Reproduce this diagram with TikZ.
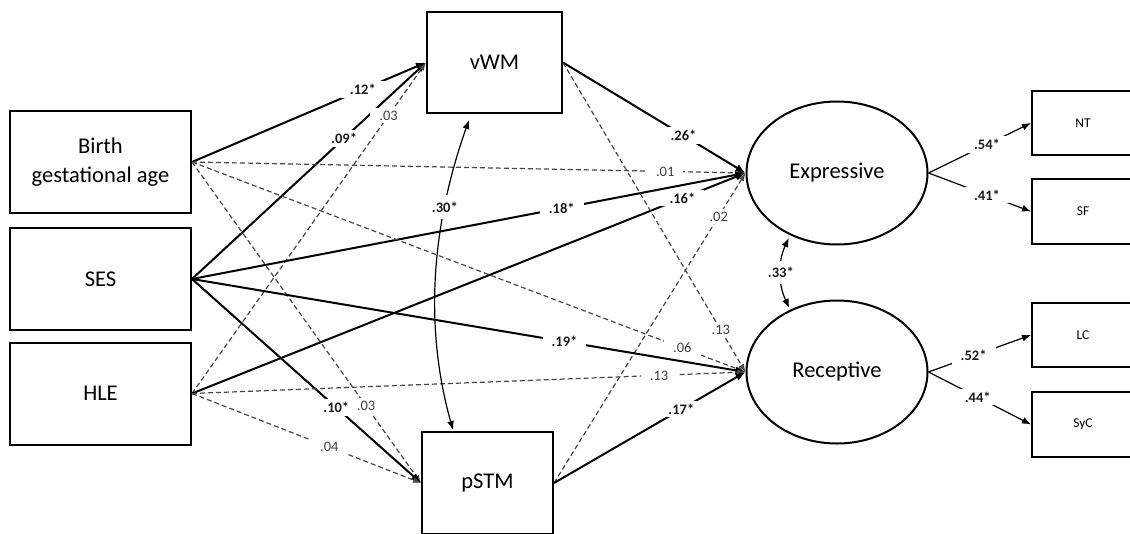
\documentclass[tikz,border=0pt]{standalone}
\usepackage{fontspec}
\setmainfont{Carlito}
\usetikzlibrary{arrows.meta,shapes.geometric}
\begin{document}
\begin{tikzpicture}[x=1pt,y=-1pt,
 box/.style={draw,line width=2pt,inner sep=0pt,align=center,font=\fontsize{22.5}{28.5}\selectfont},
 ind/.style={draw,line width=2pt,inner sep=0pt,minimum width=102pt,font=\fontsize{13.5}{16}\selectfont},
 lat/.style={draw,ellipse,line width=2pt,inner sep=0pt,minimum width=181pt,minimum height=143pt,font=\fontsize{22.5}{28.5}\selectfont},
 sol/.style={line width=2pt,-{Latex[length=10pt,width=8pt]}},
 dsh/.style={line width=1.2pt,black!72,dash pattern=on 5pt off 3pt,-{Latex[length=8pt,width=6pt]}},
 ld/.style={line width=1.2pt,-{Latex[length=9pt,width=7pt]}},
 lab/.style={fill=white,inner xsep=9pt,inner ysep=3pt,text=black!75,font=\fontsize{14.5}{16}\selectfont},
 slab/.style={lab,text=black!90,font=\bfseries\fontsize{14.5}{16}\selectfont},
]
\useasboundingbox (0,0) rectangle (1130,533);
\clip (0,0) rectangle (1130,533);
% nodes
\node[box,minimum width=181pt,minimum height=102pt] (B) at (100.5,162) {Birth\\gestational age};
\node[box,minimum width=181pt,minimum height=102pt] (S) at (100.5,279) {SES};
\node[box,minimum width=181pt,minimum height=102pt] (H) at (100.5,393.5) {HLE};
\node[box,minimum width=135pt,minimum height=101pt] (V) at (494.5,62.5) {vWM};
\node[box,minimum width=131pt,minimum height=102pt] (P) at (487.5,483) {pSTM};
\node[lat] (E) at (837,173) {Expressive};
\node[lat] (R) at (837,372) {Receptive};
\node[ind,minimum height=64pt] (NT) at (1083,123) {NT};
\node[ind,minimum height=65pt] (SF) at (1083,211.5) {SF};
\node[ind,minimum height=64pt] (LC) at (1083,335) {LC};
\node[ind,minimum height=65pt] (SyC) at (1083,424.5) {SyC};
\coordinate (Vtop) at (469,120);
\coordinate (Pbot) at (453,430);
% paths to vWM
\draw[sol] (B.east) -- node[slab,pos=.73]{.12*} (V.west);
\draw[sol] (S.east) -- node[slab,pos=.65]{.09*} (V.west);
\draw[dsh] (H.east) -- node[lab,pos=.84]{.03} (V.west);
% paths to pSTM
\draw[dsh] (B.east) -- node[lab,pos=.76]{.03} (P.west);
\draw[sol] (S.east) -- node[slab,pos=.63]{.10*} (P.west);
\draw[dsh] (H.east) -- node[lab,pos=.6]{.04} (P.west);
% paths to Expressive
\draw[dsh] (B.east) -- node[lab,pos=.855]{.01} (E.west);
\draw[sol] (S.east) -- node[slab,pos=.668]{.18*} (E.west);
\draw[sol] (H.east) -- node[slab,pos=.886]{.16*} (E.west);
\draw[sol] (V.east) -- node[slab,pos=.66]{.26*} (E.west);
\draw[dsh] (P.east) -- node[lab,pos=.86]{.02} (E.west);
% paths to Receptive
\draw[dsh] (B.east) -- node[lab,pos=.886]{.06} (R.west);
\draw[sol] (S.east) -- node[slab,pos=.673]{.19*} (R.west);
\draw[dsh] (H.east) -- node[lab,pos=.844]{.13} (R.west);
\draw[dsh] (V.east) -- node[lab,pos=.865]{.13} (R.west);
\draw[sol] (P.east) -- node[slab,pos=.665]{.17*} (R.west);
% covariances
\draw[ld,{Latex[length=9pt,width=7pt]}-{Latex[length=9pt,width=7pt]}] (Vtop) .. controls (430,230) and (425,330) .. node[slab,pos=.27,inner xsep=4pt,inner ysep=7pt]{.30*} (Pbot);
\draw[ld,{Latex[length=9pt,width=7pt]}-{Latex[length=9pt,width=7pt]},shorten <=3pt,shorten >=2pt] (E.233) to[bend right=25] node[slab,inner xsep=4pt,inner ysep=6pt]{.33*} (R.127);
% loadings
\draw[ld] (E.east) -- node[slab,pos=.57]{.54*} (NT.west);
\draw[ld] (E.east) -- node[slab,pos=.57]{.41*} (SF.west);
\draw[ld] (R.east) -- node[slab,pos=.44]{.52*} (LC.west);
\draw[ld] (R.east) -- node[slab,pos=.48]{.44*} (SyC.west);
\end{tikzpicture}
\end{document}
